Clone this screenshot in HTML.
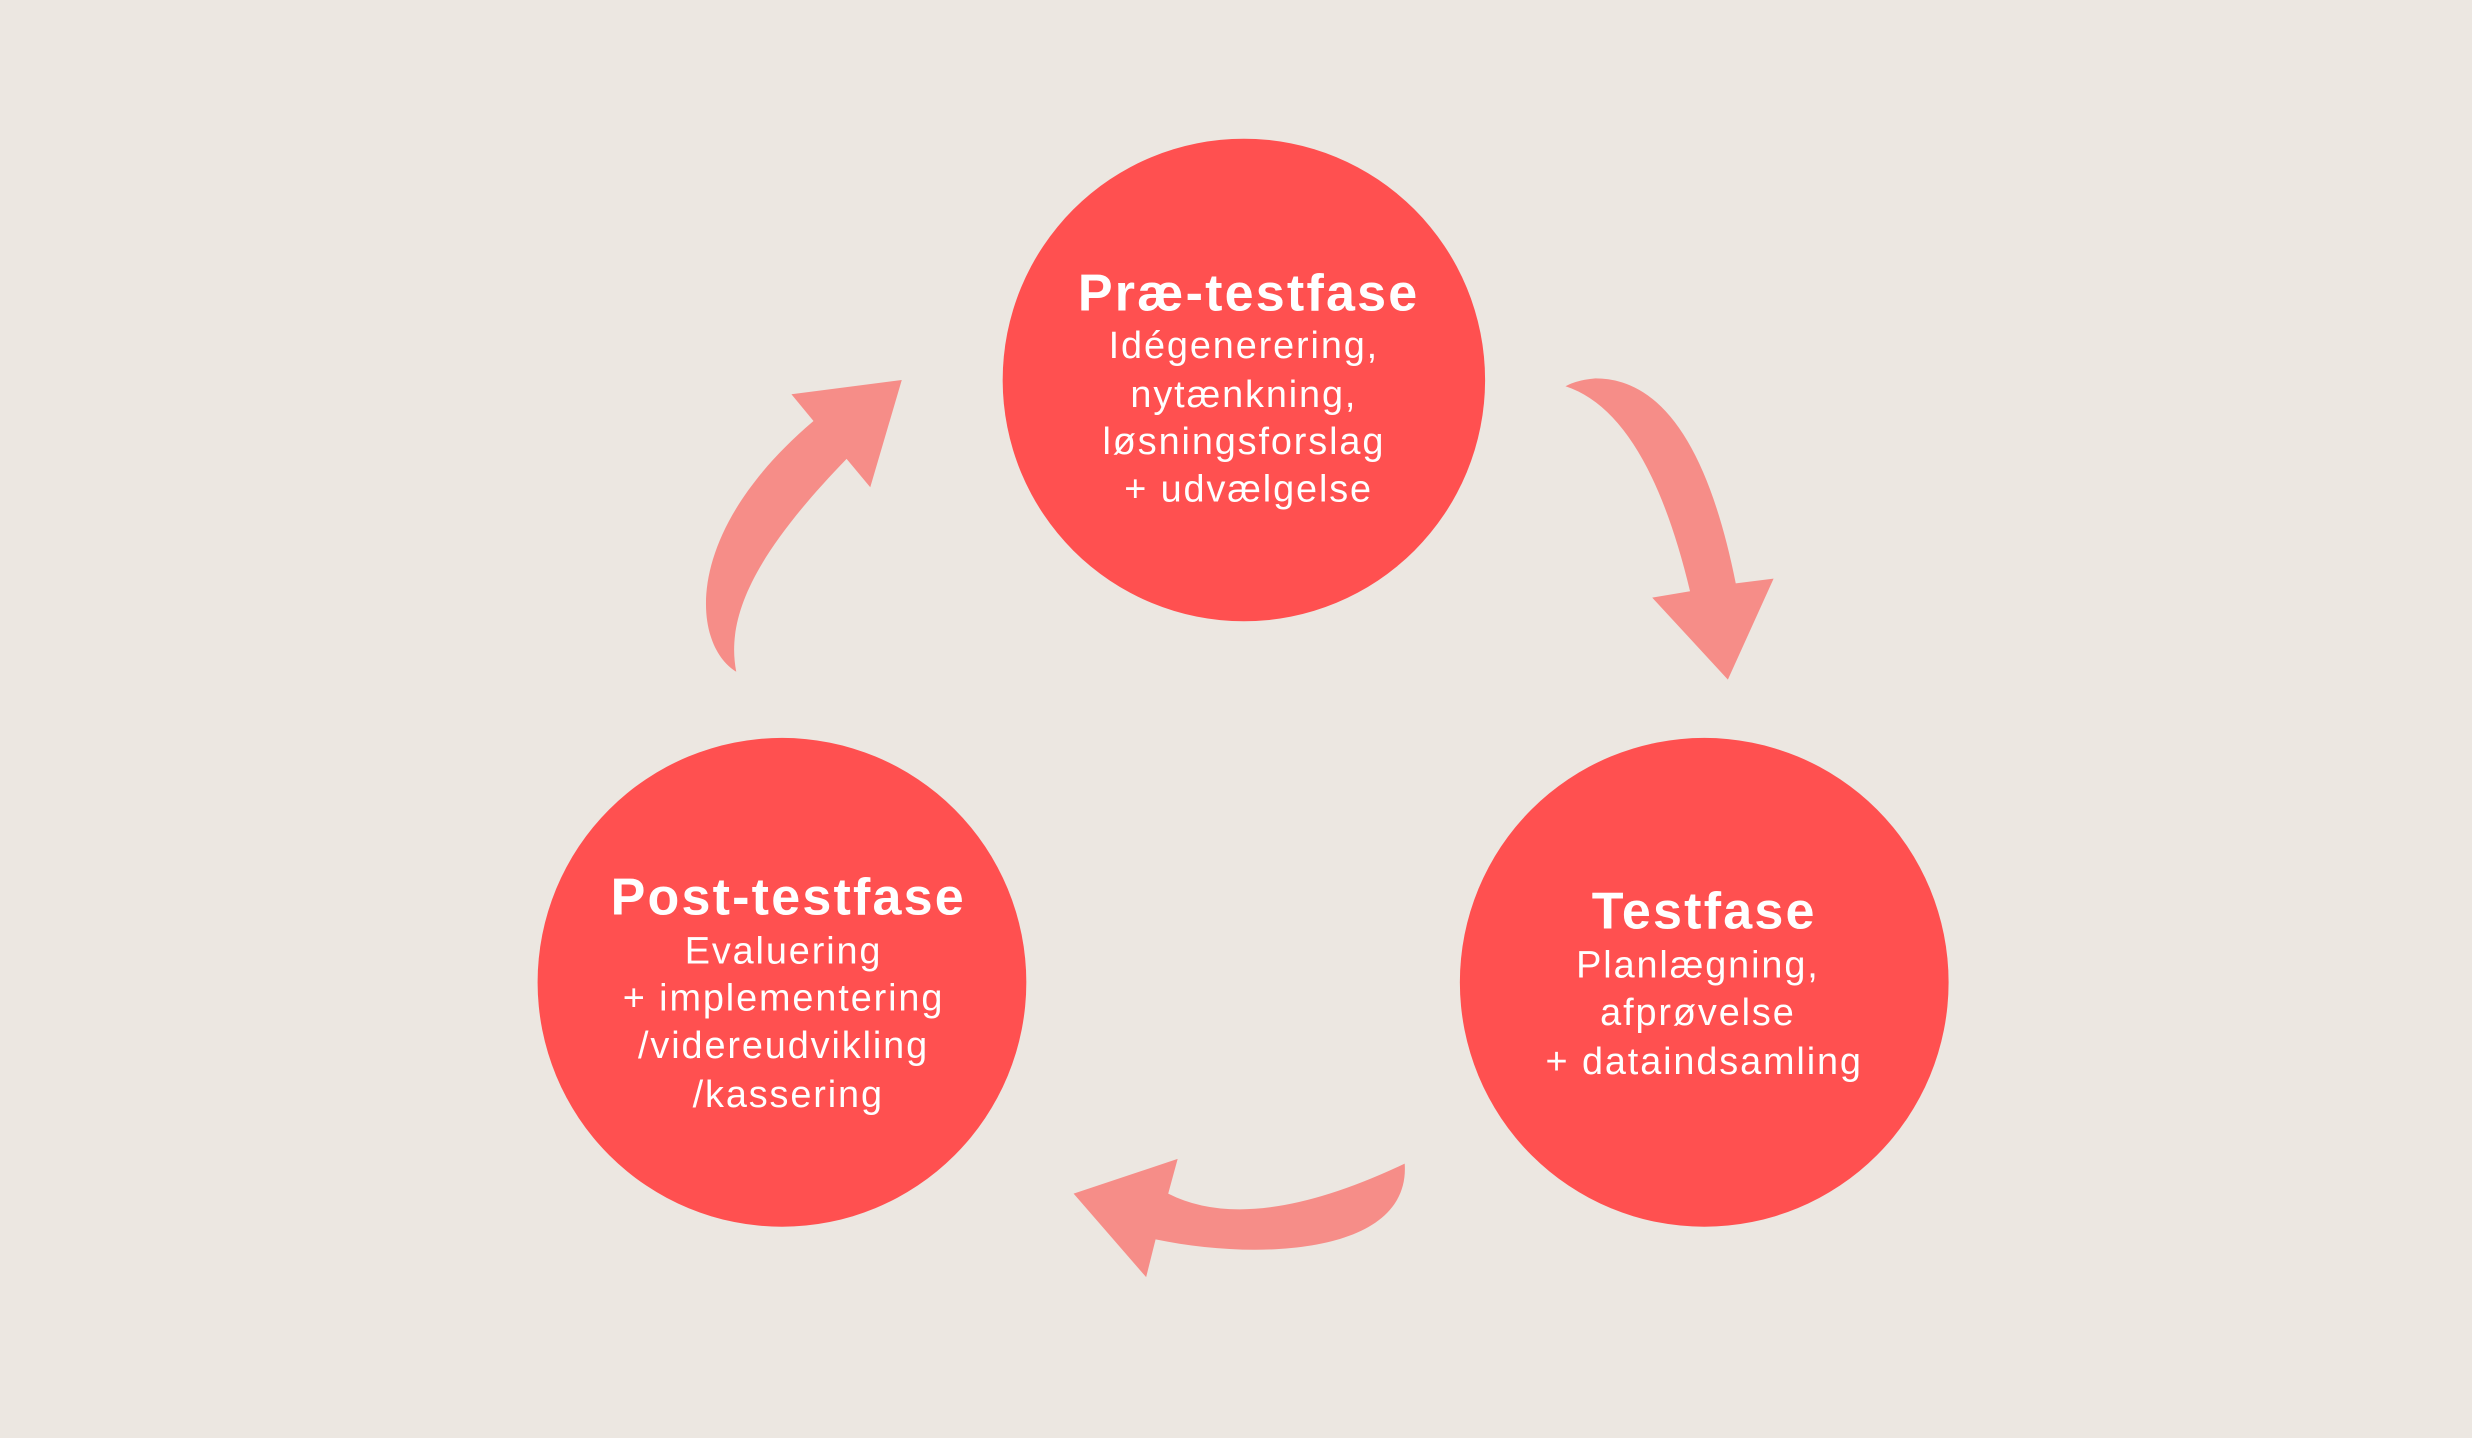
<!DOCTYPE html>
<html><head><meta charset="utf-8"><style>
html,body{margin:0;padding:0;background:#ece7e1;}
svg{display:block}
text{font-family:"Liberation Sans",sans-serif;fill:#fff;text-anchor:middle}
.t{font-weight:bold;font-size:33px;letter-spacing:1.4px}
.b{font-size:24px;letter-spacing:1.2px}
</style></head><body>
<svg width="2472" height="1438" viewBox="0 0 1568 912" preserveAspectRatio="none">
<rect width="1568" height="912" fill="#ece7e1"/>
<g fill="#ff5050">
<circle cx="789" cy="241" r="153"/>
<circle cx="496" cy="623" r="155"/>
<circle cx="1081" cy="623" r="155"/>
</g>
<g fill="#f68d88">
<path d="M993,245 Q1045,262 1072,375 L1048,379 L1096,431 L1125,367 L1101,370 Q1075,240 1012,240 Q1000,241 993,245 Z"/>
<path d="M891,738 Q794,784 741,757 L747,735 L681,757 L727,810 L733,786 C800,800 895,795 891,738 Z"/>
<path d="M467,426 C440,410 430,340 516,267 L502,250 L572,241 L552,309 L537,291 C480,350 460,390 467,426 Z"/>
</g>
<text class="t" x="792" y="197">Præ-testfase</text>
<text class="b" x="789" y="227">Idégenerering,</text>
<text class="b" x="789" y="258">nytænkning,</text>
<text class="b" x="789" y="288">løsningsforslag</text>
<text class="b" x="792" y="318">+ udvælgelse</text>
<text class="t" x="500" y="580">Post-testfase</text>
<text class="b" x="497" y="611">Evaluering</text>
<text class="b" x="497" y="641">+ implementering</text>
<text class="b" x="497" y="671">/videreudvikling</text>
<text class="b" x="500" y="702">/kassering</text>
<text class="t" x="1081" y="589">Testfase</text>
<text class="b" x="1077" y="620">Planlægning,</text>
<text class="b" x="1077" y="650">afprøvelse</text>
<text class="b" x="1081" y="681">+ dataindsamling</text>
</svg>
</body></html>
